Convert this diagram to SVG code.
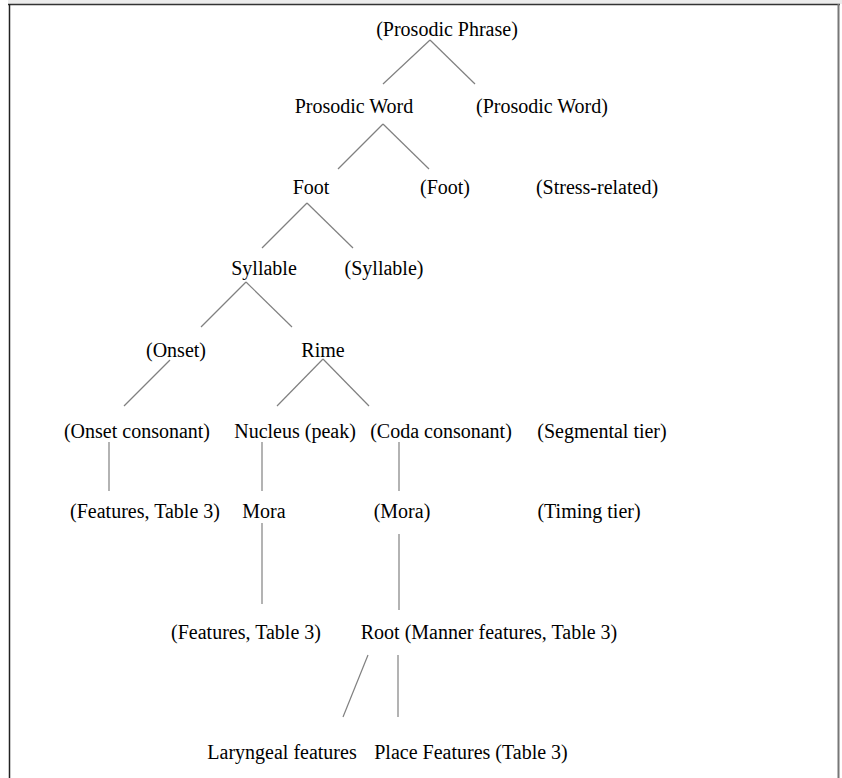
<svg xmlns="http://www.w3.org/2000/svg" width="842" height="778" viewBox="0 0 842 778">
<style>
text{font-family:"Liberation Serif","Times New Roman",serif;font-size:20px;fill:#000;text-anchor:middle}
.c line{stroke:#808080;stroke-width:1.2}
</style>
<rect x="0" y="0" width="842" height="778" fill="#fff"/>
<rect x="8" y="0" width="834" height="4" fill="#ececec"/>
<line x1="8" y1="4.5" x2="840" y2="4.5" stroke="#333" stroke-width="1.5"/>
<line x1="9.5" y1="4" x2="9.5" y2="778" stroke="#222" stroke-width="1.5"/>
<line x1="838.5" y1="4" x2="838.5" y2="778" stroke="#777" stroke-width="2"/>
<g class="c" id="connectors">
<line x1="430" y1="40" x2="383" y2="84"/>
<line x1="430" y1="40" x2="475" y2="84"/>
<line x1="383" y1="124" x2="338" y2="169"/>
<line x1="383" y1="124" x2="429" y2="169"/>
<line x1="307" y1="203" x2="262" y2="248"/>
<line x1="307" y1="203" x2="353" y2="248"/>
<line x1="246" y1="282" x2="201" y2="327"/>
<line x1="246" y1="282" x2="292" y2="327"/>
<line x1="170" y1="360" x2="124" y2="406"/>
<line x1="323" y1="359" x2="277" y2="406"/>
<line x1="323" y1="359" x2="369" y2="406"/>
<line x1="109" y1="442" x2="109" y2="491"/>
<line x1="262" y1="442" x2="262" y2="491"/>
<line x1="399" y1="442" x2="399" y2="491"/>
<line x1="262" y1="523" x2="262" y2="604"/>
<line x1="399" y1="534" x2="399" y2="610"/>
<line x1="368" y1="655" x2="343" y2="717"/>
<line x1="398" y1="655" x2="398" y2="717"/>
</g>
<g id="n-phrase"><text x="447" y="36">(Prosodic Phrase)</text></g>
<g id="n-pword"><text x="354" y="113">Prosodic Word</text></g>
<g id="n-pword2"><text x="542" y="113">(Prosodic Word)</text></g>
<g id="n-foot"><text x="311" y="194">Foot</text></g>
<g id="n-foot2"><text x="445" y="194">(Foot)</text></g>
<g id="n-stress"><text x="597" y="194">(Stress-related)</text></g>
<g id="n-syll"><text x="264" y="275">Syllable</text></g>
<g id="n-syll2"><text x="384" y="275">(Syllable)</text></g>
<g id="n-onset"><text x="176" y="357">(Onset)</text></g>
<g id="n-rime"><text x="323" y="357">Rime</text></g>
<g id="n-onsetc"><text x="137" y="438">(Onset consonant)</text></g>
<g id="n-nucleus"><text x="295" y="438">Nucleus (peak)</text></g>
<g id="n-coda"><text x="441" y="438">(Coda consonant)</text></g>
<g id="n-seg"><text x="602" y="438">(Segmental tier)</text></g>
<g id="n-feat1"><text x="145" y="518">(Features, Table 3)</text></g>
<g id="n-mora"><text x="264" y="518">Mora</text></g>
<g id="n-mora2"><text x="402" y="518">(Mora)</text></g>
<g id="n-timing"><text x="589" y="518">(Timing tier)</text></g>
<g id="n-feat2"><text x="246" y="639">(Features, Table 3)</text></g>
<g id="n-root"><text x="489" y="639">Root (Manner features, Table 3)</text></g>
<g id="n-laryngeal"><text x="282" y="759">Laryngeal features</text></g>
<g id="n-place"><text x="471" y="759">Place Features (Table 3)</text></g>
</svg>
